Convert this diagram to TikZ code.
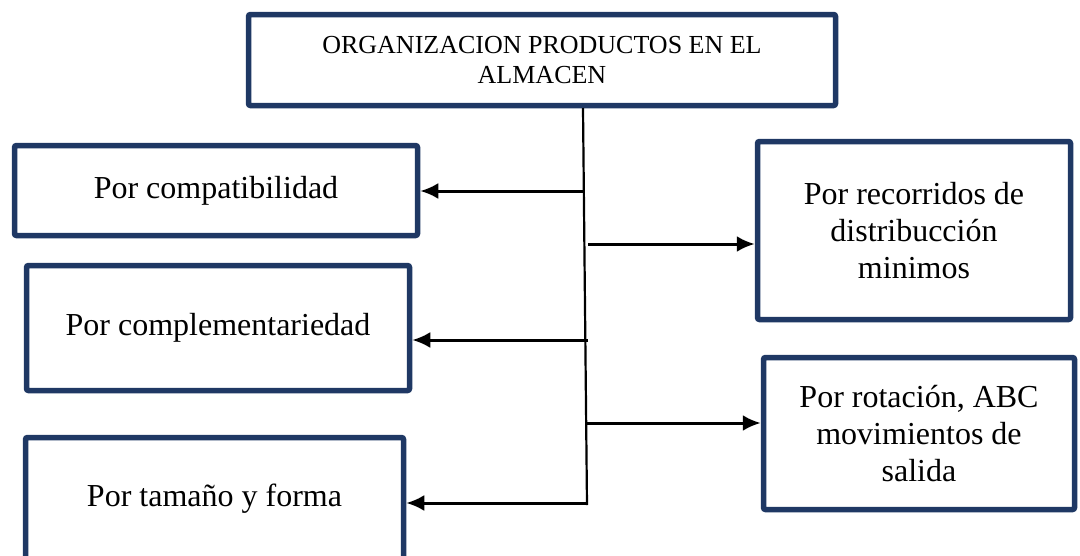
\documentclass[tikz,border=0pt]{standalone}
\usepackage{fontspec}
\setmainfont{Liberation Serif}
\usetikzlibrary{arrows.meta,positioning}
\definecolor{boxblue}{RGB}{31,56,100}

\begin{document}
\begin{tikzpicture}[%
        x=1pt, y=-1pt,
        every node/.style={inner sep=0pt, align=center},
        cat/.style={draw=boxblue, line width=5.5pt, rounded corners=2pt, fill=white, font=\fontsize{32}{37}\selectfont},
        trunk/.style={draw, line width=2.2pt},
        branch/.style={draw, line width=3pt},
        >={Latex[length=18pt,width=16pt]}
      ]
      \useasboundingbox (0,0) rectangle (1080,555);
      \node [] (org) [cat, minimum width=587pt, minimum height=91pt, font=\fontsize{26}{30}\selectfont] at (542,60) {ORGANIZACION PRODUCTOS EN EL\\ALMACEN};
      \node [] (compat) [cat, minimum width=403pt, minimum height=90pt] at (216,190.5) {Por compatibilidad};
      \node [] (complem) [cat, minimum width=383pt, minimum height=125pt] at (218,328) {Por complementariedad};
      \node [] (tam) [cat, minimum width=378pt, minimum height=122pt] at (214.5,498.5) {Por tamaño y forma};
      \node [] (recor) [cat, minimum width=313pt, minimum height=178pt] at (914,230.5) {Por recorridos de\\distribucción\\minimos};
      \node [] (rot) [cat, minimum width=311pt, minimum height=152pt] at (919,433.5) {Por rotación, ABC\\movimientos de\\salida};
      % tronco central
      \coordinate (t0) at (583,108);
      \coordinate (t1) at (587,505);
      \path [trunk] (t0) -- (t1);
      \coordinate (b1) at (583,191);
      \coordinate (b2) at (588,244);
      \coordinate (b3) at (588,340);
      \coordinate (b4) at (585,423);
      \coordinate (b5) at (587,503);
      \path [branch] (b1) edge[->] (b1 -| compat.east)
      (b2) edge[->] (b2 -| recor.west)
      (b3) edge[->] (b3 -| complem.east)
      (b4) edge[->] (b4 -| rot.west)
      (b5) edge[->] (b5 -| tam.east);
    \end{tikzpicture}
\end{document}
